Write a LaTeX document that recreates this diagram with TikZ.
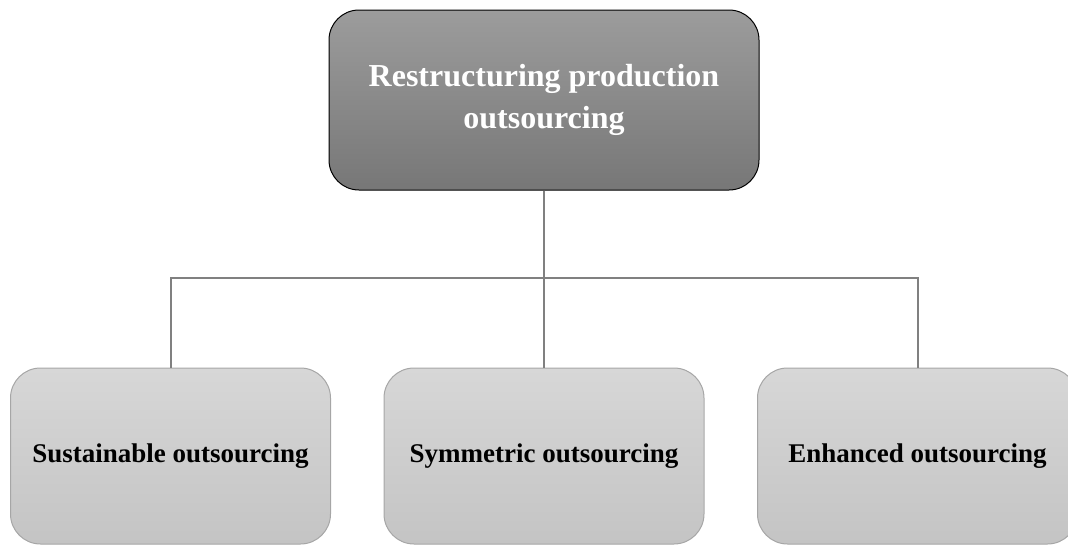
\documentclass[tikz,border=0pt]{standalone}
\usepackage{fontspec}
\setmainfont{Liberation Serif}
\usetikzlibrary{trees}
\definecolor{rootTop}{HTML}{9C9C9C}
\definecolor{rootBot}{HTML}{777777}
\definecolor{leafTop}{HTML}{D7D7D7}
\definecolor{leafBot}{HTML}{C4C4C4}
\definecolor{linkgray}{HTML}{808080}
\tikzset{
  rootbox/.style={draw=black, line width=1pt, rounded corners=30pt,
    top color=rootTop, bottom color=rootBot, text=white,
    minimum width=430pt, minimum height=180pt, inner sep=0pt, align=center,
    font=\fontsize{32}{42}\selectfont\bfseries},
  leafbox/.style={draw=black!35, line width=1pt, rounded corners=30pt,
    top color=leafTop, bottom color=leafBot, text=black,
    minimum width=320pt, minimum height=176pt, inner sep=0pt, align=center,
    font=\fontsize{27}{32}\selectfont\bfseries}
}
\begin{document}
\begin{tikzpicture}[x=1pt, y=1pt,
    level distance=356pt, sibling distance=373.5pt,
    edge from parent/.style={draw=linkgray, line width=2pt},
    edge from parent fork down]
    \clip (0,0) rectangle (1068,-544);
    \node[rootbox] (root) at (544,-100) {Restructuring production\\outsourcing}
        child {node[leafbox] (sust) {Sustainable outsourcing}}
        child {node[leafbox] (symm) {Symmetric outsourcing}}
        child {node[leafbox] (enh) {Enhanced outsourcing}};
\end{tikzpicture}
\end{document}
